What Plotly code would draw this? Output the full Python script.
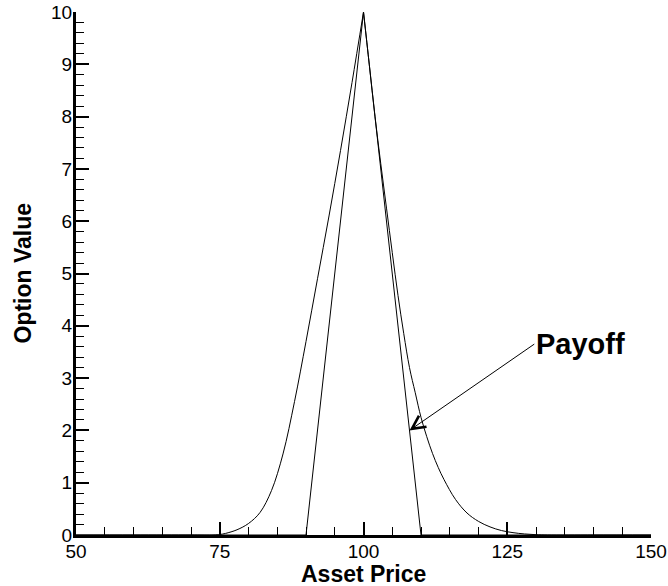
import plotly.graph_objects as go

# Smooth option-value curve (left and right of the strike)
left_price = [50, 60, 70, 74, 75, 76, 78, 80, 82, 84, 86, 88, 90, 92, 94, 96, 98, 100]
left_value = [0, 0, 0, 0, 0.01, 0.03, 0.10, 0.22, 0.43, 0.85, 1.55, 2.55, 3.7, 4.9, 6.1, 7.35, 8.65, 10.0]

right_price = [100, 101, 102, 103, 104, 105, 106, 107, 108, 109, 110, 111, 112, 113, 114,
               116, 118, 120, 122, 124, 126, 128, 130, 132, 140, 150]
right_value = [10.0, 9.0, 8.0, 7.1, 6.25, 5.4, 4.58, 3.85, 3.2, 2.72, 2.25, 1.88, 1.56, 1.29, 1.06,
               0.68, 0.42, 0.26, 0.155, 0.085, 0.045, 0.02, 0.006, 0.0, 0.0, 0.0]

# Payoff (triangle)
payoff_price = [50, 90, 100, 110, 150]
payoff_value = [0, 0, 10, 0, 0]

x_ticks = [50, 75, 100, 125, 150]
y_ticks = [0, 1, 2, 3, 4, 5, 6, 7, 8, 9, 10]

annot_tip = (108, 2)
annot_tail = (129.7, 3.65)
annot_text = "Payoff"

FONT = "Liberation Sans, Arial, sans-serif"

fig = go.Figure()
for xs, ys in [(left_price, left_value), (right_price, right_value)]:
    fig.add_trace(go.Scatter(x=xs, y=ys, mode="lines",
                             line=dict(color="black", width=1, shape="spline", smoothing=1),
                             showlegend=False, hoverinfo="skip"))
fig.add_trace(go.Scatter(x=payoff_price, y=payoff_value, mode="lines",
                         line=dict(color="black", width=1),
                         showlegend=False, hoverinfo="skip"))

fig.add_annotation(x=annot_tip[0], y=annot_tip[1], xref="x", yref="y",
                   ax=annot_tail[0], ay=annot_tail[1], axref="x", ayref="y",
                   text="<b>" + annot_text + "</b>", showarrow=True,
                   arrowhead=5, arrowsize=2.6, arrowwidth=1, arrowcolor="black",
                   xanchor="left", yanchor="middle",
                   font=dict(family=FONT, size=29, color="black"))

# Axis titles
fig.add_annotation(text="<b>Asset Price</b>", xref="paper", yref="paper", x=0.5, y=0,
                   xanchor="center", yanchor="middle", yshift=-39, showarrow=False,
                   font=dict(family=FONT, size=23, color="black"))
fig.add_annotation(text="<b>Option Value</b>", xref="paper", yref="paper", x=0, y=0.5,
                   xanchor="center", yanchor="middle", xshift=-54, textangle=-90,
                   showarrow=False, font=dict(family=FONT, size=23, color="black"))

axis_common = dict(showline=True, linecolor="black", linewidth=3, mirror=False,
                   ticks="inside", ticklen=13, tickwidth=2, tickcolor="black",
                   showgrid=False, zeroline=False, automargin=False,
                   ticklabelstandoff=-3, ticklabeloverflow="allow",
                   tickfont=dict(family=FONT, size=19, color="black"))

fig.update_xaxes(range=[50, 150], tickvals=x_ticks, ticktext=[str(v) for v in x_ticks],
                 minor=dict(ticks="inside", ticklen=8, tickwidth=1, tickcolor="black", dtick=5,
                            showgrid=False),
                 **axis_common)
fig.update_yaxes(range=[0, 10], tickvals=y_ticks, ticktext=[str(v) for v in y_ticks],
                 minor=dict(ticks="inside", ticklen=8, tickwidth=1, tickcolor="black", dtick=0.2,
                            showgrid=False),
                 **axis_common)

fig.update_layout(width=668, height=586, plot_bgcolor="white", paper_bgcolor="white",
                  margin=dict(l=76, r=17, t=12, b=51), showlegend=False)

# remove the default 8px body margin so the figure fills the window exactly
fig.write_html("out.html", config={"displayModeBar": False},
               post_script="document.body.style.margin='0';")
